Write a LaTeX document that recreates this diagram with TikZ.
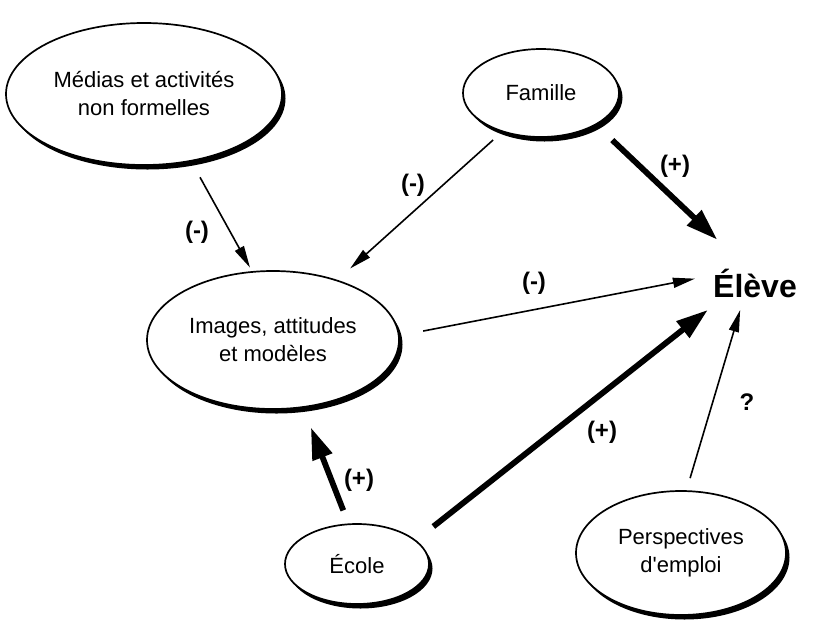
\documentclass[tikz,border=0pt]{standalone}
\usepackage{fontspec}
\setmainfont{Liberation Sans}
\usetikzlibrary{shapes.geometric,arrows.meta,shadows}
\begin{document}
\begin{tikzpicture}[x=1pt,y=-1pt,
  bubble/.style={ellipse, draw, line width=1.7pt, fill=white, inner sep=0pt, align=center,
    font=\fontsize{22}{28}\selectfont,
    drop shadow={shadow xshift=3.5pt, shadow yshift=-4.5pt, opacity=1, fill=black}},
  thinarrow/.style={line width=1.6pt, -{Triangle[length=22pt,width=10pt]}},
  thickarrow/.style={line width=5.8pt, -{Triangle[length=32pt,width=20pt]}},
  lbl/.style={font=\bfseries\fontsize{24}{28}\selectfont, inner sep=0pt}
]
\useasboundingbox (0,0) rectangle (820,625);

\node[bubble, minimum width=276pt, minimum height=142pt] (medias) at (144,94) {Médias et activités\\non formelles};
\node[bubble, minimum width=156pt, minimum height=88pt] (famille) at (541,93) {Famille};
\node[bubble, minimum width=252pt, minimum height=138pt] (images) at (273,340) {Images, attitudes\\et modèles};
\node[bubble, minimum width=144pt, minimum height=80pt] (ecole) at (357,564) {École};
\node[bubble, minimum width=210pt, minimum height=124pt] (persp) at (681,553) {Perspectives\\d\textquotesingle emploi};
\node[ellipse, inner sep=0pt, minimum width=130pt, minimum height=84pt, font=\bfseries\fontsize{32}{36}\selectfont] (eleve) at (755,283) {Élève};

\draw[thinarrow, shorten <=18pt, shorten >=4pt] (medias.-55) -- (images.107);
\draw[thinarrow, shorten <=12pt, shorten >=17pt] (famille.-135) -- (images.43);
\draw[thickarrow, shorten <=22pt, shorten >=9pt] (famille.-30) -- (eleve.130);
\draw[thinarrow, shorten <=24pt, shorten >=-5pt] (images.2.5) -- (eleve.177);
\draw[thickarrow, shorten <=14pt, shorten >=21pt] (ecole.102) -- (images.-66);
\draw[thickarrow, shorten <=22pt, shorten >=-2pt] (ecole.22.6) -- (eleve.210);
\draw[thinarrow, shorten <=12.6pt, shorten >=-14pt] (persp.85) -- (eleve.-115);

\node[lbl] (l1) at (197,232) {(-)};
\node[lbl] (l2) at (413,185) {(-)};
\node[lbl] (l3) at (675,166) {(+)};
\node[lbl] (l4) at (534,283) {(-)};
\node[lbl] (l5) at (359,480) {(+)};
\node[lbl] (l6) at (602,432) {(+)};
\node[lbl] (l7) at (747,402) {?};
\end{tikzpicture}
\end{document}
